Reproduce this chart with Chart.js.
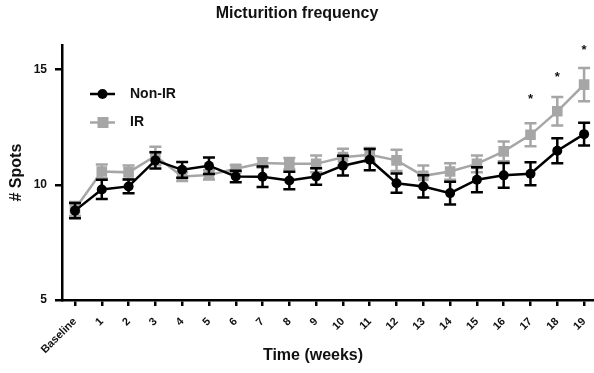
<!DOCTYPE html>
<html>
<head>
<title>Micturition frequency</title>
<script src="https://cdn.jsdelivr.net/npm/chart.js"></script>
<style>
  body { margin: 0; background: #fff; }
  #wrap { width: 594px; height: 373px; }
</style>
</head>
<body>
<div id="wrap"><canvas id="chart"></canvas></div>
<script>
const weeks = ['Baseline', '1', '2', '3', '4', '5', '6', '7', '8', '9', '10',
               '11', '12', '13', '14', '15', '16', '17', '18', '19'];
const nonIR = [8.88, 9.8, 9.93, 11.06, 10.65, 10.83, 10.36, 10.35, 10.19, 10.36,
               10.83, 11.09, 10.07, 9.93, 9.64, 10.22, 10.41, 10.48, 11.48, 12.2];
const nonIRErr = [0.33, 0.42, 0.3, 0.35, 0.34, 0.36, 0.25, 0.45, 0.38, 0.36,
                  0.43, 0.46, 0.42, 0.48, 0.49, 0.54, 0.54, 0.5, 0.54, 0.49];
const ir = [8.95, 10.58, 10.54, 11.25, 10.36, 10.43, 10.7, 10.95, 10.91, 10.91,
            11.2, 11.3, 11.06, 10.39, 10.58, 10.91, 11.45, 12.17, 13.19, 14.35];
const irErr = [0.3, 0.3, 0.3, 0.4, 0.2, 0.2, 0.15, 0.2, 0.25, 0.36,
               0.36, 0.3, 0.46, 0.45, 0.36, 0.36, 0.43, 0.5, 0.62, 0.72];
const yTicks = [5, 10, 15];
// significance stars: week index and height
const starWeeks = [17, 18, 19];
const starY = [13.85, 14.8, 15.95];

const BLACK = '#000000';
const GREY = '#a6a6a6';
const errors = [nonIRErr, irErr];

// error bars under each series
const errorBars = {
  id: 'errorBars',
  beforeDatasetDraw(chart, args) {
    const ctx = chart.ctx;
    const ds = chart.data.datasets[args.index];
    const err = errors[args.index];
    const x = chart.scales.x, y = chart.scales.y;
    ctx.save();
    ctx.strokeStyle = ds.borderColor;
    ctx.lineWidth = 2.5;
    ds.data.forEach((p, i) => {
      const px = x.getPixelForValue(p.x);
      const top = y.getPixelForValue(p.y + err[i]);
      const bot = y.getPixelForValue(p.y - err[i]);
      ctx.beginPath();
      ctx.moveTo(px, top); ctx.lineTo(px, bot);
      ctx.moveTo(px - 6, top); ctx.lineTo(px + 6, top);
      ctx.moveTo(px - 6, bot); ctx.lineTo(px + 6, bot);
      ctx.stroke();
    });
    ctx.restore();
  }
};

// stars, legend and x title
const extras = {
  id: 'extras',
  afterDraw(chart) {
    const ctx = chart.ctx;
    const x = chart.scales.x, y = chart.scales.y;
    ctx.save();
    ctx.fillStyle = '#111';
    ctx.font = 'bold 13px "Liberation Sans", Arial, sans-serif';
    ctx.textAlign = 'center';
    ctx.textBaseline = 'middle';
    starWeeks.forEach((w, i) => {
      ctx.fillText('*', x.getPixelForValue(w), y.getPixelForValue(starY[i]) + 3);
    });

    // legend
    chart.data.datasets.forEach((ds, i) => {
      const ly = 94 + i * 28.5;
      ctx.strokeStyle = ds.borderColor;
      ctx.fillStyle = ds.borderColor;
      ctx.lineWidth = 2.5;
      ctx.beginPath();
      ctx.moveTo(90, ly); ctx.lineTo(115, ly);
      ctx.stroke();
      if (ds.pointStyle === 'rect') {
        ctx.fillRect(97.5, ly - 5.5, 11, 11);
      } else {
        ctx.beginPath();
        ctx.arc(102.5, ly, 5, 0, Math.PI * 2);
        ctx.fill();
      }
      ctx.fillStyle = '#111';
      ctx.font = 'bold 14px "Liberation Sans", Arial, sans-serif';
      ctx.textAlign = 'left';
      ctx.fillText(ds.label, 130, ly);
    });

    ctx.fillStyle = '#111';
    ctx.font = 'bold 16px "Liberation Sans", Arial, sans-serif';
    ctx.textAlign = 'center';
    ctx.fillText('Time (weeks)', 313, 356);
    ctx.restore();
  }
};

new Chart(document.getElementById('chart'), {
  type: 'line',
  data: {
    datasets: [{
      label: 'Non-IR',
      data: nonIR.map((v, i) => ({x: i, y: v})),
      borderColor: BLACK,
      backgroundColor: BLACK,
      borderWidth: 2.5,
      pointStyle: 'circle',
      pointRadius: 5,
      pointBorderWidth: 0,
      tension: 0
    }, {
      label: 'IR',
      data: ir.map((v, i) => ({x: i, y: v})),
      borderColor: GREY,
      backgroundColor: GREY,
      borderWidth: 2.5,
      pointStyle: 'rect',
      pointRadius: 7.5,
      pointBorderWidth: 0,
      tension: 0
    }]
  },
  options: {
    responsive: true,
    maintainAspectRatio: false,
    animation: false,
    events: [],
    layout: { autoPadding: false, padding: { left: 0, right: 0, top: 0, bottom: 0 } },
    plugins: {
      legend: { display: false },
      tooltip: { enabled: false },
      title: {
        display: true,
        text: 'Micturition frequency',
        color: '#111',
        font: { family: '"Liberation Sans", Arial, sans-serif', size: 16, weight: 'bold' },
        padding: { top: 4, bottom: 22 }
      }
    },
    scales: {
      x: {
        type: 'linear',
        min: -0.485,
        max: 19.37,
        afterBuildTicks(s) { s.ticks = weeks.map((w, i) => ({value: i})); },
        afterFit(s) { s.height = 73; s.paddingRight = 0; s.paddingLeft = 0; },
        border: { color: '#000', width: 2.5 },
        grid: { drawOnChartArea: false, drawTicks: true, tickLength: 6, color: '#000', lineWidth: 2.5 },
        ticks: {
          autoSkip: false,
          minRotation: 45,
          maxRotation: 45,
          padding: 9,
          color: '#111',
          font: { family: '"Liberation Sans", Arial, sans-serif', size: 11, weight: 'bold' },
          callback: (v) => weeks[v]
        }
      },
      y: {
        min: 5,
        max: 16.06,
        afterBuildTicks(s) { s.ticks = yTicks.map(v => ({value: v})); },
        afterFit(s) { s.width = 62; },
        border: { color: '#000', width: 2.5 },
        grid: { drawOnChartArea: false, drawTicks: true, tickLength: 7, color: '#000', lineWidth: 2.5 },
        ticks: {
          padding: 8,
          color: '#111',
          font: { family: '"Liberation Sans", Arial, sans-serif', size: 12, weight: 'bold' }
        },
        title: {
          display: true,
          text: '# Spots',
          color: '#111',
          padding: { top: 7, bottom: 0 },
          font: { family: '"Liberation Sans", Arial, sans-serif', size: 16, weight: 'bold' }
        }
      }
    }
  },
  plugins: [errorBars, extras]
});
</script>
</body>
</html>
